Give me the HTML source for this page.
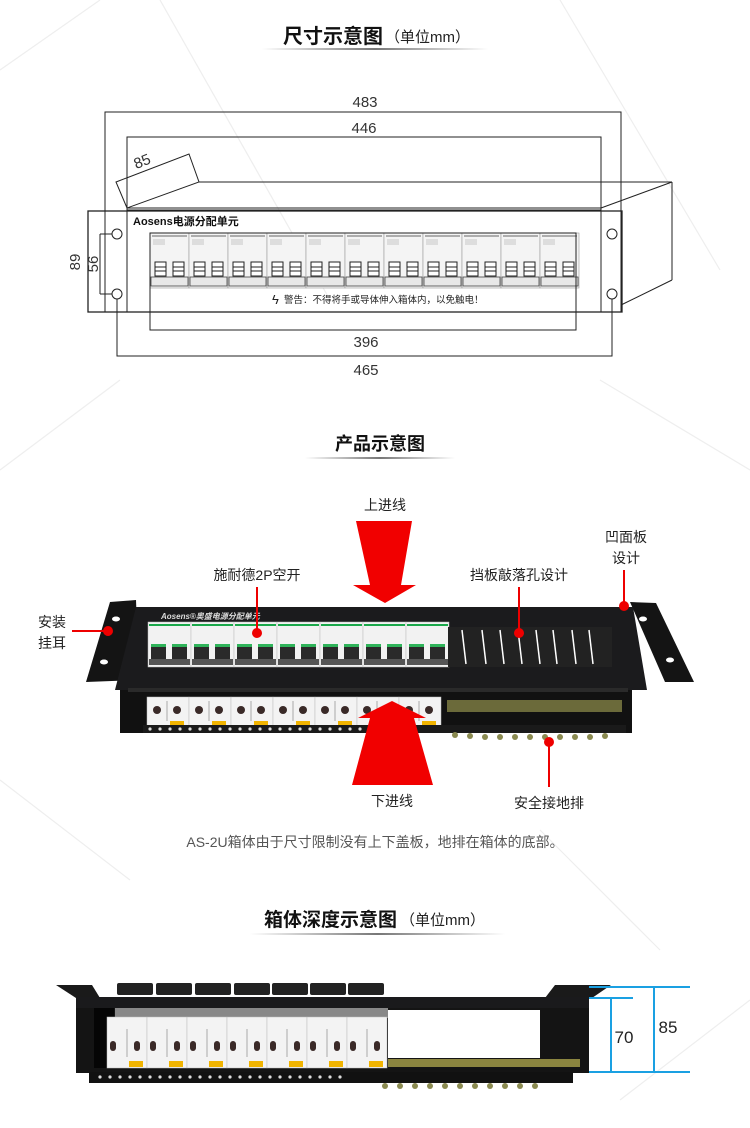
<!DOCTYPE html>
<html><head><meta charset="utf-8"><style>
html,body{margin:0;padding:0;background:#fff;}
svg{display:block;font-family:"Liberation Sans","Noto Sans CJK SC",sans-serif;}
</style></head><body>
<svg width="750" height="1128" viewBox="0 0 750 1128" xmlns="http://www.w3.org/2000/svg">
<defs>
<linearGradient id="ul" x1="0" x2="1"><stop offset="0" stop-color="#fff"/><stop offset="0.5" stop-color="#777"/><stop offset="1" stop-color="#fff"/></linearGradient>
<g id="brk">
 <rect x="0" y="0" width="39" height="55" fill="#f4f4f4" stroke="#999" stroke-width="0.6"/>
 <line x1="2" y1="3" x2="37" y2="3" stroke="#666" stroke-width="1"/>
 <rect x="3" y="6" width="12" height="6" fill="#ddd"/>
 <rect x="5" y="29" width="11" height="14" fill="#fff" stroke="#222" stroke-width="1"/>
 <line x1="5" y1="34" x2="16" y2="34" stroke="#222"/><line x1="5" y1="38" x2="16" y2="38" stroke="#222"/>
 <rect x="23" y="29" width="11" height="14" fill="#fff" stroke="#222" stroke-width="1"/>
 <line x1="23" y1="34" x2="34" y2="34" stroke="#222"/><line x1="23" y1="38" x2="34" y2="38" stroke="#222"/>
 <rect x="1" y="44" width="37" height="9" fill="#e8e8e8" stroke="#444" stroke-width="0.8"/>
</g>
<g id="pbrk">
 <rect x="0" y="0" width="43" height="45" fill="#f2f2f2" stroke="#bbb" stroke-width="0.5"/>
 <rect x="1" y="2" width="41" height="2" fill="#1aa84a"/>
 <rect x="3" y="22" width="15" height="16" fill="#2a2a2a"/><rect x="3" y="22" width="15" height="3" fill="#2fb35a"/>
 <rect x="24" y="22" width="15" height="16" fill="#2a2a2a"/><rect x="24" y="22" width="15" height="3" fill="#2fb35a"/>
 <rect x="1" y="37" width="41" height="6" fill="#555"/>
</g>
<g id="lbrk">
 <rect x="0" y="0" width="42" height="30" fill="#f3f3f3" stroke="#bbb" stroke-width="0.5"/>
 <circle cx="10" cy="13" r="4" fill="#3a2a28"/><circle cx="30" cy="13" r="4" fill="#3a2a28"/>
 <line x1="20" y1="4" x2="20" y2="24" stroke="#aaa"/>
 <rect x="23" y="24" width="14" height="5" fill="#f1b400"/>
</g>
<g id="dbrk">
 <rect x="0" y="0" width="40" height="51" fill="#f3f3f3" stroke="#bbb" stroke-width="0.5"/>
 <rect x="3" y="24" width="6" height="10" rx="3" fill="#3a2a28"/><rect x="27" y="24" width="6" height="10" rx="3" fill="#3a2a28"/>
 <line x1="20" y1="12" x2="20" y2="40" stroke="#aaa"/>
 <rect x="22" y="44" width="14" height="6" fill="#f1b400"/>
</g>
</defs>

<!-- faint watermark lines -->
<g stroke="#eee" stroke-width="1.2">
<line x1="0" y1="70" x2="100" y2="0"/><line x1="160" y1="0" x2="330" y2="300"/><line x1="560" y1="0" x2="720" y2="270"/>
<line x1="0" y1="470" x2="120" y2="380"/><line x1="600" y1="380" x2="750" y2="470"/><line x1="0" y1="780" x2="130" y2="880"/>
<line x1="540" y1="830" x2="660" y2="950"/><line x1="620" y1="1100" x2="750" y2="1000"/>
</g>

<!-- SECTION 1 title -->
<text x="283" y="43" font-size="20" font-weight="bold" fill="#111">尺寸示意图</text>
<text x="385" y="42" font-size="15" fill="#222">（单位mm）</text>
<rect x="262" y="48" width="226" height="2" fill="url(#ul)"/>

<!-- drawing 1 -->
<g stroke="#222" stroke-width="1" fill="none">
 <polyline points="105,312 105,112 621,112 621,312"/>
 <polyline points="127,211 127,137 601,137 601,211"/>
 <polygon points="116,182 189,154 199,182 127,208"/>
 <line x1="199" y1="182" x2="672" y2="182"/>
 <line x1="127" y1="208" x2="601" y2="208"/>
 <line x1="127" y1="210" x2="601" y2="210"/>
 <line x1="601" y1="208" x2="672" y2="182"/>
 <line x1="672" y1="182" x2="672" y2="280"/>
 <line x1="672" y1="280" x2="621" y2="305"/>
 <rect x="88" y="211" width="534" height="101" stroke-width="1.3"/>
 <line x1="127" y1="211" x2="127" y2="312"/><line x1="601" y1="211" x2="601" y2="312"/>
 <line x1="100" y1="234" x2="100" y2="294"/>
 <line x1="100" y1="234" x2="112" y2="234"/><line x1="100" y1="294" x2="112" y2="294"/>
 <rect x="112" y="229" width="10" height="10" rx="5"/><rect x="112" y="289" width="10" height="10" rx="5"/>
 <rect x="607" y="229" width="10" height="10" rx="5"/><rect x="607" y="289" width="10" height="10" rx="5"/>
 <rect x="150" y="233" width="426" height="97"/>
 <polyline points="117,299 117,356 612,356 612,299"/>
</g>
<use href="#brk" x="150" y="233"/><use href="#brk" x="189" y="233"/><use href="#brk" x="228" y="233"/><use href="#brk" x="267" y="233"/>
<use href="#brk" x="306" y="233"/><use href="#brk" x="345" y="233"/><use href="#brk" x="384" y="233"/><use href="#brk" x="423" y="233"/>
<use href="#brk" x="462" y="233"/><use href="#brk" x="501" y="233"/><use href="#brk" x="540" y="233"/>
<rect x="150" y="233" width="426" height="97" fill="none" stroke="#222"/>
<text x="133" y="225" font-size="11" font-weight="bold" fill="#111">Aosens电源分配单元</text>
<text x="272" y="304" font-size="13" fill="#222">ϟ</text>
<text x="284" y="303" font-size="9.5" fill="#222">警告：不得将手或导体伸入箱体内，以免触电！</text>
<g font-size="15" fill="#333" text-anchor="middle">
 <text x="365" y="107">483</text>
 <text x="364" y="133">446</text>
 <text x="144" y="166" transform="rotate(-22 144 166)">85</text>
 <text x="80" y="262" transform="rotate(-90 80 262)">89</text>
 <text x="98" y="264" transform="rotate(-90 98 264)">56</text>
 <text x="366" y="347">396</text>
 <text x="366" y="375">465</text>
</g>

<!-- SECTION 2 -->
<text x="380" y="450" font-size="18" font-weight="bold" fill="#111" text-anchor="middle">产品示意图</text>
<rect x="305" y="457" width="150" height="2" fill="url(#ul)"/>

<!-- device -->
<polygon points="110,602 136,600 139,680 86,682" fill="#141414"/>
<polygon points="630,602 656,603 694,682 665,682" fill="#141414"/>
<ellipse cx="116" cy="619" rx="4" ry="2.5" fill="#fff"/><ellipse cx="104" cy="662" rx="4" ry="2.5" fill="#fff"/>
<ellipse cx="643" cy="619" rx="4" ry="2.5" fill="#fff"/><ellipse cx="670" cy="660" rx="4" ry="2.5" fill="#fff"/>
<polygon points="136,607 633,607 647,690 115,690" fill="#1b1b1d"/>
<rect x="120" y="690" width="512" height="43" fill="#111"/>
<rect x="128" y="688" width="500" height="4" fill="#2a2a2a"/>
<rect x="447" y="700" width="175" height="12" fill="#6b6a3a"/>
<use href="#lbrk" x="147" y="697"/><use href="#lbrk" x="189" y="697"/><use href="#lbrk" x="231" y="697"/><use href="#lbrk" x="273" y="697"/>
<use href="#lbrk" x="315" y="697"/><use href="#lbrk" x="357" y="697"/><use href="#lbrk" x="399" y="697"/>
<rect x="143" y="725" width="483" height="8" fill="#1a1a1a"/>
<g fill="#ddd">
<circle cx="150" cy="729" r="1.6"/><circle cx="160" cy="729" r="1.6"/><circle cx="170" cy="729" r="1.6"/><circle cx="180" cy="729" r="1.6"/><circle cx="190" cy="729" r="1.6"/><circle cx="200" cy="729" r="1.6"/><circle cx="210" cy="729" r="1.6"/><circle cx="220" cy="729" r="1.6"/><circle cx="230" cy="729" r="1.6"/><circle cx="240" cy="729" r="1.6"/><circle cx="250" cy="729" r="1.6"/><circle cx="260" cy="729" r="1.6"/><circle cx="270" cy="729" r="1.6"/><circle cx="280" cy="729" r="1.6"/><circle cx="290" cy="729" r="1.6"/><circle cx="300" cy="729" r="1.6"/><circle cx="310" cy="729" r="1.6"/><circle cx="320" cy="729" r="1.6"/><circle cx="330" cy="729" r="1.6"/><circle cx="340" cy="729" r="1.6"/><circle cx="350" cy="729" r="1.6"/><circle cx="360" cy="729" r="1.6"/>
</g>
<g fill="#8a8a50"><circle cx="455" cy="735" r="3"/><circle cx="470" cy="736" r="3"/><circle cx="485" cy="737" r="3"/><circle cx="500" cy="737" r="3"/><circle cx="515" cy="737" r="3"/><circle cx="530" cy="737" r="3"/><circle cx="545" cy="737" r="3"/><circle cx="560" cy="737" r="3"/><circle cx="575" cy="737" r="3"/><circle cx="590" cy="737" r="3"/><circle cx="605" cy="736" r="3"/></g>
<use href="#pbrk" x="148" y="622"/><use href="#pbrk" x="191" y="622"/><use href="#pbrk" x="234" y="622"/><use href="#pbrk" x="277" y="622"/>
<use href="#pbrk" x="320" y="622"/><use href="#pbrk" x="363" y="622"/><use href="#pbrk" x="406" y="622"/>
<rect x="448" y="627" width="164" height="40" fill="#222"/>
<g stroke="#fff" stroke-width="1.5">
<line x1="462" y1="630" x2="466" y2="664"/><line x1="482" y1="630" x2="486" y2="664"/><line x1="500" y1="630" x2="504" y2="664"/><line x1="518" y1="630" x2="522" y2="664"/><line x1="536" y1="630" x2="540" y2="664"/><line x1="553" y1="630" x2="557" y2="664"/><line x1="572" y1="630" x2="576" y2="664"/><line x1="589" y1="630" x2="593" y2="664"/>
</g>
<text x="161" y="619" font-size="8" font-style="italic" font-weight="bold" fill="#ddd">Aosens®奥盛电源分配单元</text>

<!-- red arrows -->
<polygon points="356,521 412,521 401,585 416,585 385,603 353,585 370,585" fill="#f10000"/>
<polygon points="392,701 426,718 414,718 433,785 352,785 370,718 358,718" fill="#f10000"/>

<!-- callouts -->
<g stroke="#e00" stroke-width="2" fill="#e00">
 <line x1="257" y1="587" x2="257" y2="632"/><circle cx="257" cy="633" r="5" stroke="none"/>
 <line x1="519" y1="587" x2="519" y2="632"/><circle cx="519" cy="633" r="5" stroke="none"/>
 <line x1="624" y1="570" x2="624" y2="604"/><circle cx="624" cy="606" r="5" stroke="none"/>
 <line x1="72" y1="631" x2="106" y2="631"/><circle cx="108" cy="631" r="5" stroke="none"/>
 <line x1="549" y1="743" x2="549" y2="787"/><circle cx="549" cy="742" r="5" stroke="none"/>
</g>
<g font-size="14" fill="#222" text-anchor="middle">
 <text x="385" y="510">上进线</text>
 <text x="257" y="580">施耐德2P空开</text>
 <text x="519" y="580">挡板敲落孔设计</text>
 <text x="626" y="542">凹面板</text>
 <text x="626" y="563">设计</text>
 <text x="52" y="627">安装</text>
 <text x="52" y="648">挂耳</text>
 <text x="392" y="806">下进线</text>
 <text x="549" y="808">安全接地排</text>
</g>
<text x="375" y="847" font-size="14" fill="#555" text-anchor="middle">AS-2U箱体由于尺寸限制没有上下盖板，地排在箱体的底部。</text>

<!-- SECTION 3 -->
<text x="264" y="926" font-size="19" font-weight="bold" fill="#111">箱体深度示意图</text>
<text x="400" y="925" font-size="15" fill="#222">（单位mm）</text>
<rect x="250" y="933" width="255" height="2" fill="url(#ul)"/>

<polygon points="56,985 92,985 100,998 76,998" fill="#1a1a1a"/>
<polygon points="545,998 555,985 611,985 592,998" fill="#1a1a1a"/>
<rect x="76" y="997" width="513" height="76" fill="#141414"/>
<rect x="94" y="1008" width="20" height="60" fill="#050505"/>
<rect x="388" y="1010" width="152" height="48" fill="#fff"/>
<rect x="388" y="1059" width="192" height="8" fill="#8b8540"/>
<rect x="89" y="1072" width="484" height="11" fill="#111"/>
<g fill="#ddd"><circle cx="100" cy="1077" r="1.6"/><circle cx="110" cy="1077" r="1.6"/><circle cx="120" cy="1077" r="1.6"/><circle cx="130" cy="1077" r="1.6"/><circle cx="140" cy="1077" r="1.6"/><circle cx="150" cy="1077" r="1.6"/><circle cx="160" cy="1077" r="1.6"/><circle cx="170" cy="1077" r="1.6"/><circle cx="180" cy="1077" r="1.6"/><circle cx="190" cy="1077" r="1.6"/><circle cx="200" cy="1077" r="1.6"/><circle cx="210" cy="1077" r="1.6"/><circle cx="220" cy="1077" r="1.6"/><circle cx="230" cy="1077" r="1.6"/><circle cx="240" cy="1077" r="1.6"/><circle cx="250" cy="1077" r="1.6"/><circle cx="260" cy="1077" r="1.6"/><circle cx="270" cy="1077" r="1.6"/><circle cx="280" cy="1077" r="1.6"/><circle cx="290" cy="1077" r="1.6"/><circle cx="300" cy="1077" r="1.6"/><circle cx="310" cy="1077" r="1.6"/><circle cx="320" cy="1077" r="1.6"/><circle cx="330" cy="1077" r="1.6"/><circle cx="340" cy="1077" r="1.6"/></g>
<g fill="#8a8a50"><circle cx="385" cy="1086" r="3"/><circle cx="400" cy="1086" r="3"/><circle cx="415" cy="1086" r="3"/><circle cx="430" cy="1086" r="3"/><circle cx="445" cy="1086" r="3"/><circle cx="460" cy="1086" r="3"/><circle cx="475" cy="1086" r="3"/><circle cx="490" cy="1086" r="3"/><circle cx="505" cy="1086" r="3"/><circle cx="520" cy="1086" r="3"/><circle cx="535" cy="1086" r="3"/></g>
<g fill="#222"><rect x="117" y="983" width="36" height="12" rx="2"/><rect x="156" y="983" width="36" height="12" rx="2"/><rect x="195" y="983" width="36" height="12" rx="2"/><rect x="234" y="983" width="36" height="12" rx="2"/><rect x="272" y="983" width="36" height="12" rx="2"/><rect x="310" y="983" width="36" height="12" rx="2"/><rect x="348" y="983" width="36" height="12" rx="2"/></g>
<rect x="76" y="997" width="513" height="11" fill="#1a1a1c"/>
<rect x="115" y="1008" width="273" height="10" fill="#888"/>
<use href="#dbrk" x="107" y="1017"/><use href="#dbrk" x="147" y="1017"/><use href="#dbrk" x="187" y="1017"/><use href="#dbrk" x="227" y="1017"/>
<use href="#dbrk" x="267" y="1017"/><use href="#dbrk" x="307" y="1017"/><use href="#dbrk" x="347" y="1017"/>

<g stroke="#1aa0e2" stroke-width="2">
 <line x1="589" y1="987" x2="690" y2="987"/>
 <line x1="589" y1="998" x2="633" y2="998"/>
 <line x1="589" y1="1072" x2="690" y2="1072"/>
 <line x1="611" y1="998" x2="611" y2="1072"/>
 <line x1="654" y1="987" x2="654" y2="1072"/>
</g>
<g font-size="17" fill="#222" text-anchor="middle">
 <text x="624" y="1043">70</text>
 <text x="668" y="1033">85</text>
</g>
</svg>
</body></html>
